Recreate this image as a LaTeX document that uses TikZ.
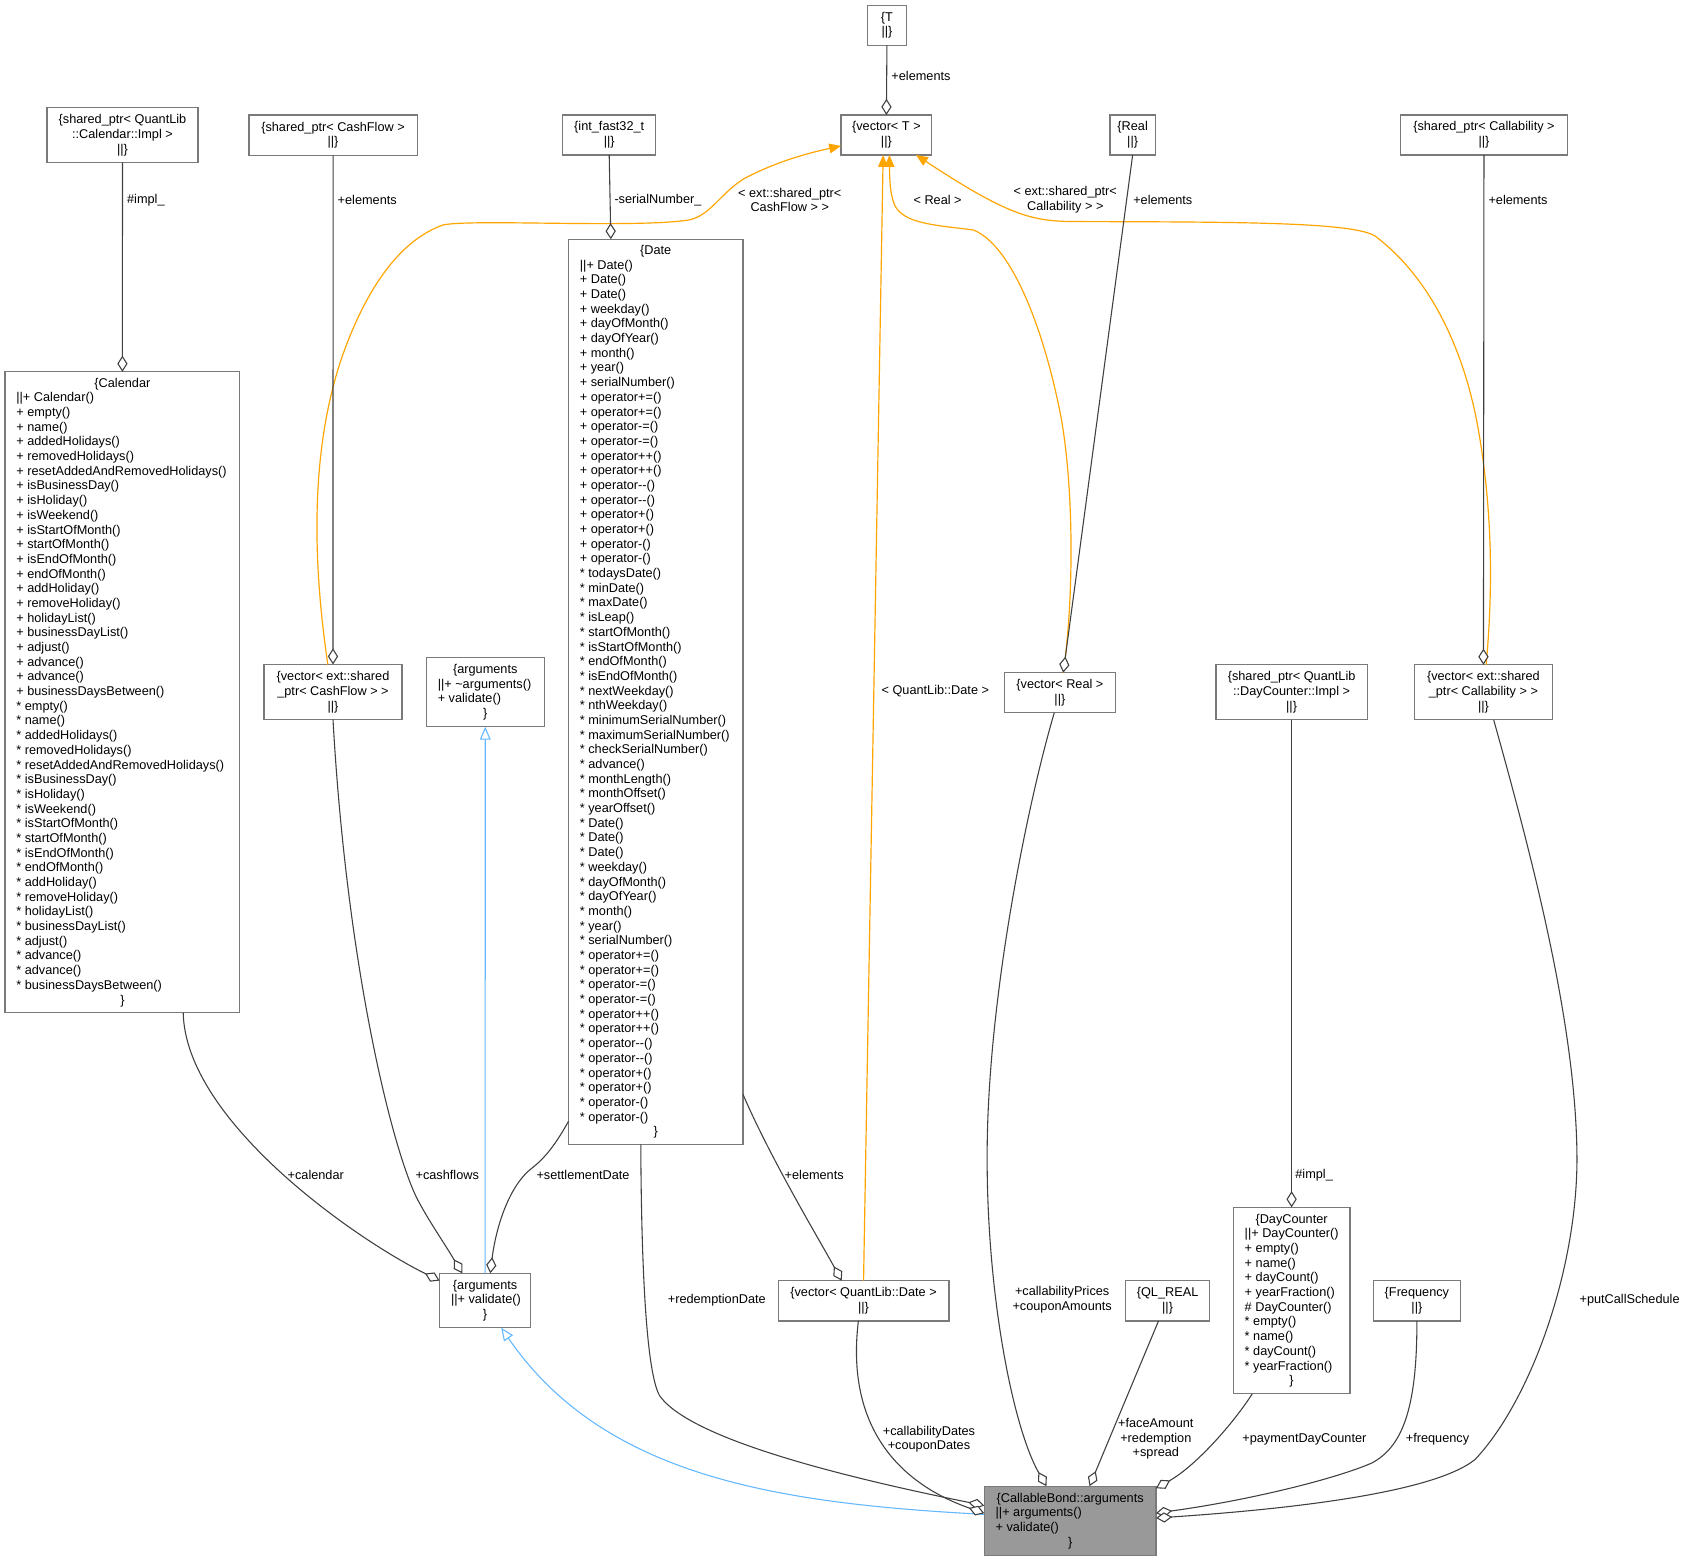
\documentclass[tikz,border=0pt]{standalone}
\usepackage{fontspec}
\setmainfont{Liberation Sans}
\usetikzlibrary{arrows.meta}
\definecolor{boxc}{HTML}{7A7A7A}
\definecolor{edgec}{HTML}{404040}
\definecolor{tmplc}{HTML}{FFA500}
\definecolor{inhc}{HTML}{63B8FF}
\definecolor{cbfill}{HTML}{999999}
\newcommand\Rs{\vrule width0pt height9.9pt depth3.73pt}
\newcommand\Cc[1]{\hbox to\hsize{\hss\Rs#1\hss}}
\newcommand\Cl[1]{\hbox to\hsize{\hskip10.6pt\Rs#1\hss}}
\newcommand\Bx[2]{\vbox{\hsize=#1\offinterlineskip #2}}
\tikzset{
  box/.style={draw=boxc, line width=1.1pt, fill=white, inner sep=0pt, outer sep=0pt, anchor=north west, font=\fontsize{11.8}{13.63}\selectfont},
  lab/.style={inner sep=0pt, font=\fontsize{11.8}{13.63}\selectfont, align=center},
  agg/.style={draw=edgec, line width=1pt, {Diamond[length=15pt,width=9.5pt,fill=white]}-},
  tmpl/.style={draw=tmplc, line width=1.1pt, -{Triangle[length=11pt,width=9pt]}},
  inh/.style={draw=inhc, line width=1pt, -{Triangle[open,length=12pt,width=10pt,fill=white]}},
}
\begin{document}
\begin{tikzpicture}[x=1pt,y=-1pt]
\fill[white] (0,0) rectangle (1565.4,1448.5);
\useasboundingbox (0,0) rectangle (1565.4,1448.5);

% ---------- boxes ----------
\node[box, minimum width=36pt, minimum height=37pt] (T) at (805,5)
  {\Bx{36pt}{\Cc{\{T}\Cc{||\}}}};
\node[box, minimum width=84.2pt, minimum height=37.1pt] (vT) at (780.4,106.7)
  {\Bx{84.2pt}{\Cc{\{vector< T >}\Cc{||\}}}};
\node[box, minimum width=140.1pt, minimum height=51pt] (calImpl) at (43.6,99.9)
  {\Bx{140.1pt}{\Cc{\{shared\_ptr< QuantLib}\Cc{::Calendar::Impl >}\Cc{||\}}}};
\node[box, minimum width=156.1pt, minimum height=37.4pt] (sCF) at (231,106.7)
  {\Bx{156.1pt}{\Cc{\{shared\_ptr< CashFlow >}\Cc{||\}}}};
\node[box, minimum width=86.6pt, minimum height=37.1pt] (intf) at (522,106.7)
  {\Bx{86.6pt}{\Cc{\{int\_fast32\_t}\Cc{||\}}}};
\node[box, minimum width=42pt, minimum height=37.1pt] (real) at (1030,106.7)
  {\Bx{42pt}{\Cc{\{Real}\Cc{||\}}}};
\node[box, minimum width=155pt, minimum height=37.1pt] (sCall) at (1299.5,106.7)
  {\Bx{155pt}{\Cc{\{shared\_ptr< Callability >}\Cc{||\}}}};

\node[box, minimum width=161.9pt, minimum height=839.8pt] (date) at (527.5,222)
  {\Bx{161.9pt}{\Cc{\{Date}\Cl{||+ Date()}\Cl{+ Date()}\Cl{+ Date()}\Cl{+ weekday()}%
  \Cl{+ dayOfMonth()}\Cl{+ dayOfYear()}\Cl{+ month()}\Cl{+ year()}\Cl{+ serialNumber()}%
  \Cl{+ operator+=()}\Cl{+ operator+=()}\Cl{+ operator-=()}\Cl{+ operator-=()}%
  \Cl{+ operator++()}\Cl{+ operator++()}\Cl{+ operator-{}-()}\Cl{+ operator-{}-()}%
  \Cl{+ operator+()}\Cl{+ operator+()}\Cl{+ operator-()}\Cl{+ operator-()}%
  \Cl{* todaysDate()}\Cl{* minDate()}\Cl{* maxDate()}\Cl{* isLeap()}\Cl{* startOfMonth()}%
  \Cl{* isStartOfMonth()}\Cl{* endOfMonth()}\Cl{* isEndOfMonth()}\Cl{* nextWeekday()}%
  \Cl{* nthWeekday()}\Cl{* minimumSerialNumber()}\Cl{* maximumSerialNumber()}%
  \Cl{* checkSerialNumber()}\Cl{* advance()}\Cl{* monthLength()}\Cl{* monthOffset()}%
  \Cl{* yearOffset()}\Cl{* Date()}\Cl{* Date()}\Cl{* Date()}\Cl{* weekday()}%
  \Cl{* dayOfMonth()}\Cl{* dayOfYear()}\Cl{* month()}\Cl{* year()}\Cl{* serialNumber()}%
  \Cl{* operator+=()}\Cl{* operator+=()}\Cl{* operator-=()}\Cl{* operator-=()}%
  \Cl{* operator++()}\Cl{* operator++()}\Cl{* operator-{}-()}\Cl{* operator-{}-()}%
  \Cl{* operator+()}\Cl{* operator+()}\Cl{* operator-()}\Cl{* operator-()}\Cc{\}}}};

\node[box, minimum width=218pt, minimum height=594.7pt] (cal) at (4.6,345)
  {\Bx{218pt}{\Cc{\{Calendar}\Cl{||+ Calendar()}\Cl{+ empty()}\Cl{+ name()}%
  \Cl{+ addedHolidays()}\Cl{+ removedHolidays()}\Cl{+ resetAddedAndRemovedHolidays()}%
  \Cl{+ isBusinessDay()}\Cl{+ isHoliday()}\Cl{+ isWeekend()}\Cl{+ isStartOfMonth()}%
  \Cl{+ startOfMonth()}\Cl{+ isEndOfMonth()}\Cl{+ endOfMonth()}\Cl{+ addHoliday()}%
  \Cl{+ removeHoliday()}\Cl{+ holidayList()}\Cl{+ businessDayList()}\Cl{+ adjust()}%
  \Cl{+ advance()}\Cl{+ advance()}\Cl{+ businessDaysBetween()}\Cl{* empty()}\Cl{* name()}%
  \Cl{* addedHolidays()}\Cl{* removedHolidays()}\Cl{* resetAddedAndRemovedHolidays()}%
  \Cl{* isBusinessDay()}\Cl{* isHoliday()}\Cl{* isWeekend()}\Cl{* isStartOfMonth()}%
  \Cl{* startOfMonth()}\Cl{* isEndOfMonth()}\Cl{* endOfMonth()}\Cl{* addHoliday()}%
  \Cl{* removeHoliday()}\Cl{* holidayList()}\Cl{* businessDayList()}\Cl{* adjust()}%
  \Cl{* advance()}\Cl{* advance()}\Cl{* businessDaysBetween()}\Cc{\}}}};

\node[box, minimum width=128pt, minimum height=51.1pt] (vCF) at (245,616.6)
  {\Bx{128pt}{\Cc{\{vector< ext::shared}\Cc{\_ptr< CashFlow > >}\Cc{||\}}}};
\node[box, minimum width=109.4pt, minimum height=64pt] (args1) at (395.6,610.4)
  {\Bx{109.4pt}{\Cc{\{arguments}\Cl{||+ \textasciitilde arguments()}\Cl{+ validate()}\Cc{\}}}};
\node[box, minimum width=103pt, minimum height=37.1pt] (vReal) at (932,624.2)
  {\Bx{103pt}{\Cc{\{vector< Real >}\Cc{||\}}}};
\node[box, minimum width=140.2pt, minimum height=51pt] (dcImpl) at (1128.4,616.9)
  {\Bx{140.2pt}{\Cc{\{shared\_ptr< QuantLib}\Cc{::DayCounter::Impl >}\Cc{||\}}}};
\node[box, minimum width=127.8pt, minimum height=51pt] (vCall) at (1312.6,616.9)
  {\Bx{127.8pt}{\Cc{\{vector< ext::shared}\Cc{\_ptr< Callability > >}\Cc{||\}}}};

\node[box, minimum width=108.2pt, minimum height=173.1pt] (dc) at (1144.4,1120.3)
  {\Bx{108.2pt}{\Cc{\{DayCounter}\Cl{||+ DayCounter()}\Cl{+ empty()}\Cl{+ name()}%
  \Cl{+ dayCount()}\Cl{+ yearFraction()}\Cl{\# DayCounter()}\Cl{* empty()}\Cl{* name()}%
  \Cl{* dayCount()}\Cl{* yearFraction()}\Cc{\}}}};
\node[box, minimum width=84.5pt, minimum height=50.5pt] (args2) at (407.9,1181.5)
  {\Bx{84.5pt}{\Cc{\{arguments}\Cl{||+ validate()}\Cc{\}}}};
\node[box, minimum width=158.6pt, minimum height=37.4pt] (vDate) at (722,1188.3)
  {\Bx{158.6pt}{\Cc{\{vector< QuantLib::Date >}\Cc{||\}}}};
\node[box, minimum width=78.2pt, minimum height=37.4pt] (qlreal) at (1044.3,1188.3)
  {\Bx{78.2pt}{\Cc{\{QL\_REAL}\Cc{||\}}}};
\node[box, minimum width=81.1pt, minimum height=37.4pt] (freq) at (1274.2,1188.3)
  {\Bx{81.1pt}{\Cc{\{Frequency}\Cc{||\}}}};
\node[box, fill=cbfill, minimum width=159.4pt, minimum height=64.4pt] (cb) at (913.3,1379)
  {\Bx{159.4pt}{\Cc{\{CallableBond::arguments}\Cl{||+ arguments()}\Cl{+ validate()}\Cc{\}}}};

% ---------- template instantiation edges ----------
\draw[tmpl] ([xshift=-4.8pt]vCF.north) .. controls (290,520) and (288,420) .. (316.4,334)
  .. controls (335,280) and (365,225) .. (411.2,208.7)
  .. controls (440,203) and (590,212) .. (640,204)
  .. controls (660,199) and (668,180) .. (690,166)
  .. controls (720,150) and (750,142) .. ([yshift=-10.15pt]vT.west);
\draw[tmpl] ([xshift=3.1pt]vReal.north) .. controls (996,560) and (997,460) .. (985,389.6)
  .. controls (970,310) and (940,228) .. (903.2,213.4)
  .. controls (870,209) and (838,208) .. (830,190)
  .. controls (826,180) and (825.5,168) .. ([xshift=2.8pt]vT.south);
\draw[tmpl] ([xshift=2.5pt]vCall.north) .. controls (1386,540) and (1384,470) .. (1372,400)
  .. controls (1360,330) and (1330,260) .. (1276.6,219.5)
  .. controls (1258,206) and (1150,206) .. (1002,205.6)
  .. controls (960,205.6) and (940,203) .. ([xshift=27.5pt]vT.south);
\draw[tmpl] (vDate.north) -- ([xshift=-3pt]vT.south);

% ---------- inheritance ----------
\draw[inh] (args2.north) -- (args1.south);
\draw[inh] ([yshift=6pt]cb.west) .. controls (720,1395) and (560,1370) .. ([xshift=14.9pt]args2.south);

% ---------- aggregation ----------
\draw[agg] (vT.north) -- (T.south);
\draw[agg] (cal.north) -- (calImpl.south);
\draw[agg] (vCF.north) -- (sCF.south);
\draw[agg] ([xshift=-41.65pt]date.north) -- (intf.south);
\draw[agg] ([xshift=3.1pt]vReal.north) -- (real.south);
\draw[agg] (vCall.north) -- (sCall.south);
\draw[agg] (dc.north) -- (dcImpl.south);
\draw[agg] ([yshift=-6.8pt]args2.north west) .. controls (330,1150) and (172,1040) .. ([xshift=56.4pt]cal.south);
\draw[agg] ([xshift=-21.2pt]args2.north) .. controls (410,1150) and (398,1133) .. (387.7,1113.5)
  .. controls (365,1070) and (322,900) .. (vCF.south);
\draw[agg] ([xshift=4.8pt]args2.north) .. controls (460,1140) and (472,1100) .. (494,1083.6)
  .. controls (505,1075) and (515,1063) .. ([yshift=-398.6pt]date.west);
\draw[agg] ([xshift=-20.3pt]vDate.north) .. controls (760,1150) and (715,1075) .. ([yshift=-373.5pt]date.east);
\draw[agg] ([yshift=14.2pt]cb.west) .. controls (780,1370) and (640,1335) .. (612,1295)
  .. controls (598,1270) and (595,1150) .. ([xshift=-13.85pt]date.south);
\draw[agg] ([yshift=7pt]cb.west) .. controls (830,1375) and (785,1320) .. ([xshift=-4.8pt]vDate.south);
\draw[agg] ([xshift=-22pt]cb.north) .. controls (940,1325) and (915,1200) .. (916,1067)
  .. controls (917,920) and (955,740) .. ([xshift=-5.2pt]vReal.south);
\draw[agg] ([xshift=18pt]cb.north) -- ([xshift=-8.4pt]qlreal.south);
\draw[agg] ([yshift=-2pt]cb.north east) .. controls (1110,1360) and (1145,1320) .. ([xshift=-36.6pt]dc.south);
\draw[agg] ([yshift=7.2pt]cb.east) .. controls (1160,1392) and (1240,1372) .. (1273,1357.5)
  .. controls (1300,1343) and (1315,1310) .. (freq.south);
\draw[agg] ([yshift=2.6pt]cb.east) .. controls (1200,1400) and (1330,1385) .. (1368.6,1354.4)
  .. controls (1420,1300) and (1463,1180) .. (1463.3,1076)
  .. controls (1463,950) and (1420,790) .. ([xshift=9.5pt]vCall.south);

% ---------- labels ----------
\node[lab, anchor=west] (lTel) at (827,70.5) {+elements};
\node[lab, anchor=west] (lCalImpl) at (117.8,186) {\#impl\_};
\node[lab, anchor=west] (lCFel) at (313.2,186) {+elements};
\node[lab, anchor=west] (lSerial) at (570,186) {-serialNumber\_};
\node[lab, anchor=west] (lRealel) at (1051.4,186) {+elements};
\node[lab, anchor=west] (lCallel) at (1381,186) {+elements};
\node[lab] (lTCF) at (732.8,185.4) {< ext::shared\_ptr<\\CashFlow > >};
\node[lab] (lTReal) at (870,185.5) {< Real >};
\node[lab] (lTCall) at (988.5,185.4) {< ext::shared\_ptr<\\Callability > >};
\node[lab] (lTDate) at (867.9,641.4) {< QuantLib::Date >};
\node[lab, anchor=west] (lDCImpl) at (1201.8,1090.3) {\#impl\_};
\node[lab] (lCal) at (293,1090.3) {+calendar};
\node[lab] (lCF) at (415,1090.3) {+cashflows};
\node[lab] (lSettle) at (541,1090.3) {+settlementDate};
\node[lab] (lDel) at (755.5,1090.3) {+elements};
\node[lab, anchor=west] (lRedD) at (619.5,1206.4) {+redemptionDate};
\node[lab] (lPrices) at (985.6,1206) {+callabilityPrices\\+couponAmounts};
\node[lab, anchor=west] (lPut) at (1465.5,1206.6) {+putCallSchedule};
\node[lab] (lDates) at (862,1335.5) {+callabilityDates\\+couponDates};
\node[lab] (lFace) at (1072.5,1335.1) {+faceAmount\\+redemption\\+spread};
\node[lab, anchor=west] (lPay) at (1152.6,1335.2) {+paymentDayCounter};
\node[lab, anchor=west] (lFreq) at (1304.3,1335.2) {+frequency};
\end{tikzpicture}
\end{document}
